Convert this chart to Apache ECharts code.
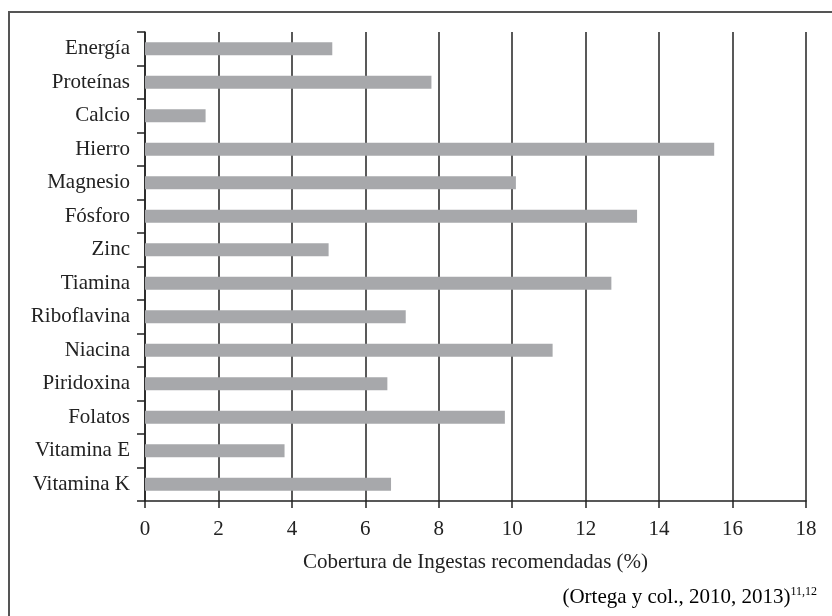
<!DOCTYPE html>
<html>
<head>
<meta charset="utf-8">
<script src="https://cdn.jsdelivr.net/npm/echarts@6/dist/echarts.min.js"></script>
<style>
  html, body { margin: 0; padding: 0; background: #fff; }
  #chart { width: 832px; height: 616px; }
</style>
</head>
<body>
<div id="chart"></div>
<script>
  // datos
  const nutrientes = ['Energía', 'Proteínas', 'Calcio', 'Hierro', 'Magnesio', 'Fósforo', 'Zinc',
    'Tiamina', 'Riboflavina', 'Niacina', 'Piridoxina', 'Folatos', 'Vitamina E', 'Vitamina K']
  const cobertura = [5.1, 7.8, 1.65, 15.5, 10.1, 13.4, 5.0, 12.7, 7.1, 11.1, 6.6, 9.8, 3.8, 6.7]
  const ejeX = { min: 0, max: 18, interval: 2 }

  const fuente = 'Liberation Serif'
  const negro = '#222'

  const chart = echarts.init(document.getElementById('chart'))
  chart.setOption({
    animation: false,
    backgroundColor: '#fff',
    grid: { left: 145, right: 26, top: 32, bottom: 115 },
    xAxis: {
      type: 'value',
      min: ejeX.min,
      max: ejeX.max,
      interval: ejeX.interval,
      name: 'Cobertura de Ingestas recomendadas (%)',
      nameLocation: 'middle',
      nameGap: 51,
      nameTextStyle: { fontFamily: fuente, fontSize: 21, color: negro },
      axisLine: { show: true, lineStyle: { color: negro, width: 1.5 } },
      axisTick: { show: true, length: 7, lineStyle: { color: negro, width: 1.5 } },
      axisLabel: { fontFamily: fuente, fontSize: 21, color: negro, margin: 18 },
      splitLine: { show: true, lineStyle: { color: negro, width: 1.5 } }
    },
    yAxis: {
      type: 'category',
      inverse: true,
      data: nutrientes,
      axisLine: { show: true, lineStyle: { color: negro, width: 1.5 } },
      axisTick: { show: true, length: 8, lineStyle: { color: negro, width: 1.5 } },
      axisLabel: { fontFamily: fuente, fontSize: 21, color: negro, margin: 15 }
    },
    series: [{
      type: 'bar',
      data: cobertura,
      barWidth: 13,
      itemStyle: { color: '#a7a8ab' }
    }],
    graphic: [
      {
        type: 'polyline',
        shape: { points: [[9, 616], [9, 12], [832, 12]] },
        style: { stroke: '#555', lineWidth: 2, fill: null }
      },
      {
        type: 'text',
        right: 15,
        top: 586,
        style: {
          text: '{a|(Ortega y col., 2010, 2013)}{s|11,12}',
          rich: {
            a: { fontFamily: fuente, fontSize: 21, color: negro },
            s: { fontFamily: fuente, fontSize: 12, color: negro, verticalAlign: 'top', padding: [0, 0, 10, 0] }
          }
        }
      }
    ]
  })
</script>
</body>
</html>
